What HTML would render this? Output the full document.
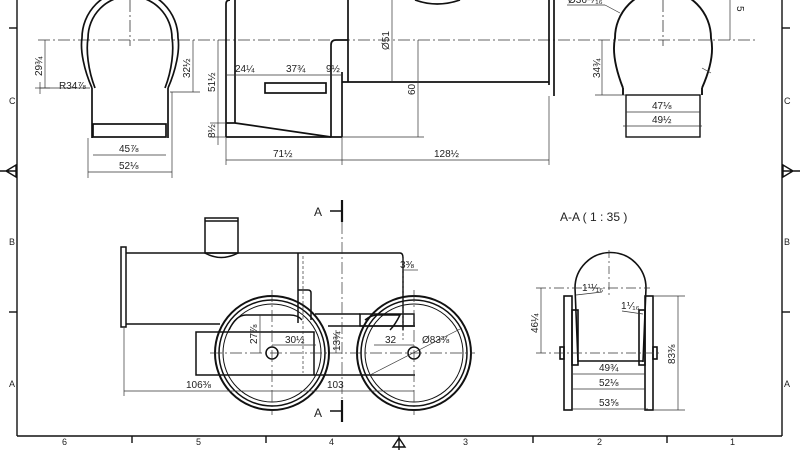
<!DOCTYPE html>
<html><head><style>
html,body{margin:0;padding:0;background:#fff;}
svg{display:block;font-family:"Liberation Sans","DejaVu Sans",sans-serif;}
</style></head><body>
<svg width="800" height="450" viewBox="0 0 800 450" xmlns="http://www.w3.org/2000/svg">
<rect width="800" height="450" fill="#fff"/>
<g stroke="#111" fill="none" stroke-width="1.4">
<line x1="17" y1="0" x2="17" y2="436"/>
<line x1="782" y1="0" x2="782" y2="436"/>
<line x1="17" y1="436" x2="782" y2="436"/>
<line x1="9" y1="28" x2="17" y2="28"/><line x1="9" y1="312" x2="17" y2="312"/>
<line x1="782" y1="28" x2="790" y2="28"/><line x1="782" y1="312" x2="790" y2="312"/>
<line x1="132" y1="436" x2="132" y2="443"/><line x1="266" y1="436" x2="266" y2="443"/>
<line x1="533" y1="436" x2="533" y2="443"/><line x1="667" y1="436" x2="667" y2="443"/>
<path d="M6 171 L16 165 L16 177 Z M0 171 H17"/>
<path d="M793 171 L783 165 L783 177 Z M783 171 H800"/>
<path d="M399 438 L393 447 L405 447 Z M399 436 V450"/>
</g>
<g font-size="9" fill="#222">
<text x="9" y="104">C</text><text x="9" y="245">B</text><text x="9" y="387">A</text>
<text x="784" y="104">C</text><text x="784" y="245">B</text><text x="784" y="387">A</text>
<text x="62" y="445">6</text><text x="196" y="445">5</text><text x="329" y="445">4</text>
<text x="463" y="445">3</text><text x="597" y="445">2</text><text x="730" y="445">1</text>
</g>

<g stroke="#333" stroke-width="0.8" fill="none" stroke-dasharray="12,3,2,3">
<line x1="38" y1="40" x2="755" y2="40"/>
<line x1="130" y1="0" x2="130" y2="46"/>
<line x1="663" y1="0" x2="663" y2="46"/>
</g>

<g stroke="#111" fill="none" stroke-width="1.7">
<path d="M92 88 C84 70 80 50 82 38 A48 48 0 0 1 178 38 C180 50 176 70 168 88"/>
<path d="M95 88 C88 70 86 50 88 38 A42 42 0 0 1 172 38 C174 50 172 70 165 88"/>
<line x1="92" y1="88" x2="92" y2="138"/><line x1="168" y1="88" x2="168" y2="138"/>
<rect x="93" y="124" width="73" height="13"/>
</g>
<g stroke="#333" stroke-width="0.7" fill="none">
<line x1="45" y1="40" x2="45" y2="88"/><line x1="40" y1="88" x2="90" y2="88"/>
<line x1="193" y1="40" x2="193" y2="92"/><line x1="170" y1="92" x2="200" y2="92"/>
<line x1="93" y1="155" x2="166" y2="155"/><line x1="88" y1="172" x2="172" y2="172"/>
<line x1="88" y1="138" x2="88" y2="178"/><line x1="172" y1="92" x2="172" y2="178"/>
<line x1="35" y1="88" x2="50" y2="88"/><line x1="40" y1="82" x2="40" y2="94"/>
</g>
<g font-size="10" fill="#222">
<text x="59" y="89">R34⅞</text>
<text x="119" y="152">45⅞</text><text x="119" y="169">52⅛</text>
<text transform="translate(42,76) rotate(-90)">29¾</text>
<text transform="translate(190,78) rotate(-90)">32½</text>
</g>

<g stroke="#111" fill="none" stroke-width="1.7">
<path d="M226 137 V4 Q226 0 230 0"/>
<line x1="235" y1="0" x2="235" y2="123"/>
<line x1="226" y1="123" x2="235" y2="123"/>
<line x1="235" y1="123" x2="331" y2="137"/>
<line x1="226" y1="137" x2="342" y2="137"/>
<path d="M331 137 V45 Q331 40 336 40 H348"/>
<line x1="348" y1="0" x2="348" y2="82"/>
<line x1="342" y1="72" x2="342" y2="137"/>
<line x1="342" y1="82" x2="549" y2="82"/>
<line x1="549" y1="0" x2="549" y2="85"/>
<line x1="554" y1="0" x2="554" y2="96"/>
<rect x="265" y="83" width="61" height="10"/>
<path d="M415 0 Q437 8 460 0"/>
</g>
<g stroke="#333" stroke-width="0.7" fill="none">
<line x1="218" y1="40" x2="218" y2="145"/><line x1="210" y1="123" x2="226" y2="123"/>
<line x1="210" y1="137" x2="226" y2="137"/>
<line x1="226" y1="75" x2="342" y2="75"/>
<line x1="418" y1="40" x2="418" y2="137"/><line x1="342" y1="137" x2="424" y2="137"/>
<line x1="392" y1="0" x2="392" y2="82"/>
<line x1="226" y1="160" x2="549" y2="160"/>
<line x1="226" y1="137" x2="226" y2="165"/><line x1="342" y1="137" x2="342" y2="165"/><line x1="549" y1="96" x2="549" y2="165"/>
</g>
<g font-size="10" fill="#222">
<text x="235" y="72">24¼</text><text x="286" y="72">37¾</text><text x="326" y="72">9½</text>
<text x="273" y="157">71½</text><text x="434" y="157">128½</text>
<text transform="translate(215,92) rotate(-90)">51½</text>
<text transform="translate(215,138) rotate(-90)">8½</text>
<text transform="translate(415,95) rotate(-90)">60</text>
<text transform="translate(389,50) rotate(-90)">Ø51</text>
</g>

<g stroke="#111" fill="none" stroke-width="1.9">
<path d="M623 88 C616 70 612 52 615 38 A48 48 0 0 1 711 38 C714 52 710 70 702 88"/>
<line x1="623" y1="88" x2="623" y2="95"/><line x1="702" y1="88" x2="702" y2="95"/>
</g>
<g stroke="#111" fill="none" stroke-width="1.4">
<rect x="626" y="95" width="74" height="42"/>
</g>
<g stroke="#333" stroke-width="0.7" fill="none">
<line x1="602" y1="40" x2="602" y2="95"/><line x1="595" y1="95" x2="626" y2="95"/>
<line x1="626" y1="112" x2="700" y2="112"/><line x1="623" y1="126" x2="702" y2="126"/>
<line x1="730" y1="0" x2="730" y2="40"/>
<line x1="567" y1="5" x2="605" y2="5"/><line x1="605" y1="5" x2="620" y2="13"/>
<line x1="702" y1="68" x2="711" y2="73"/>
</g>
<g font-size="10" fill="#222">
<text x="652" y="109">47⅛</text><text x="652" y="123">49½</text>
<text transform="translate(600,78) rotate(-90)">34¾</text>
<text x="568" y="3">Ø36¹¹⁄₁₆</text>
<text transform="translate(737,6) rotate(90)">5</text>
</g>

<g stroke="#111" fill="none" stroke-width="1.5">
<rect x="121" y="247" width="5" height="80"/>
<line x1="126" y1="253" x2="400" y2="253"/>
<line x1="126" y1="324" x2="220" y2="324"/>
<rect x="205" y="218" width="33" height="35"/>
<line x1="205" y1="221" x2="238" y2="221"/>
<path d="M205 253 Q221 262 238 253"/>
<path d="M298 253 V323"/><path d="M400 253 Q403 253 403 258 V330"/>
<path d="M298 290 H308 Q311 290 311 293 V320"/>
<rect x="196" y="332" width="118" height="43"/>
<line x1="314" y1="375" x2="415" y2="375"/>
<line x1="328" y1="326" x2="415" y2="326"/>
<line x1="315" y1="314" x2="360" y2="314"/>
<rect x="360" y="314" width="54" height="12"/>
<circle cx="272" cy="353" r="57" stroke-width="2"/>
<circle cx="272" cy="353" r="53"/>
<circle cx="272" cy="353" r="49" stroke-width="1"/>
<circle cx="272" cy="353" r="6"/>
<circle cx="414" cy="353" r="57" stroke-width="2"/>
<circle cx="414" cy="353" r="53"/>
<circle cx="414" cy="353" r="49" stroke-width="1"/>
<circle cx="414" cy="353" r="6"/>
<path d="M229 330 Q236 315 246 315 H290 Q298 315 302 320"/>
<path d="M365 320 Q371 315 378 315 H400 Q395 325 390 330"/>
<line x1="342" y1="200" x2="342" y2="222" stroke-width="2.2"/>
<line x1="342" y1="400" x2="342" y2="422" stroke-width="2.2"/>
<line x1="330" y1="211" x2="342" y2="211"/><line x1="330" y1="411" x2="342" y2="411"/>
</g>
<g stroke="#333" stroke-width="0.7" fill="none">
<line x1="342" y1="222" x2="342" y2="400" stroke-dasharray="12,3,2,3"/>
<line x1="210" y1="353" x2="475" y2="353" stroke-dasharray="12,3,2,3"/>
<line x1="272" y1="290" x2="272" y2="415" stroke-dasharray="12,3,2,3"/>
<line x1="414" y1="290" x2="414" y2="415" stroke-dasharray="12,3,2,3"/>
<line x1="124" y1="391" x2="414" y2="391"/>
<line x1="124" y1="328" x2="124" y2="396"/>
<line x1="260" y1="315" x2="260" y2="353"/>
<line x1="272" y1="345" x2="316" y2="345"/>
<line x1="336" y1="330" x2="336" y2="353"/>
<line x1="374" y1="345" x2="414" y2="345"/>
<line x1="370" y1="375" x2="462" y2="328"/>
<line x1="403" y1="270" x2="418" y2="270"/>
<line x1="303" y1="256" x2="303" y2="373" stroke-dasharray="3,2"/>
<line x1="403" y1="258" x2="403" y2="340" stroke-dasharray="3,2"/>
</g>
<g font-size="10" fill="#222">
<text x="186" y="388">106⅜</text><text x="327" y="388">103</text>
<text x="285" y="343">30½</text><text x="385" y="343">32</text>
<text x="422" y="343">Ø83⅜</text>
<text x="400" y="268">3⅜</text>
<text transform="translate(257,344) rotate(-90)">27⅞</text>
<text transform="translate(340,351) rotate(-90)">13¾</text>
</g>
<g font-size="12" fill="#222"><text x="314" y="216">A</text><text x="314" y="417">A</text></g>

<text x="560" y="221" font-size="12" fill="#222">A-A ( 1 : 35 )</text>
<g stroke="#111" fill="none" stroke-width="1.6">
<path d="M578 362 L575 288 A35 35 0 0 1 646 288 L643 362"/>
<rect x="564" y="296" width="8" height="114"/>
<rect x="645" y="296" width="8" height="114"/>
<rect x="572" y="310" width="6" height="55"/>
<rect x="639" y="310" width="6" height="55"/>
<rect x="560" y="347" width="4" height="12"/>
<rect x="653" y="347" width="4" height="12"/>
<line x1="578" y1="361" x2="643" y2="361"/>
</g>
<g stroke="#333" stroke-width="0.7" fill="none">
<line x1="536" y1="288" x2="650" y2="288" stroke-dasharray="10,3,2,3"/>
<line x1="536" y1="353" x2="660" y2="353" stroke-dasharray="10,3,2,3"/>
<line x1="609" y1="250" x2="609" y2="295" stroke-dasharray="8,3,2,3"/>
<line x1="541" y1="288" x2="541" y2="353"/>
<line x1="653" y1="296" x2="685" y2="296"/><line x1="653" y1="410" x2="685" y2="410"/>
<line x1="678" y1="296" x2="678" y2="410"/>
<line x1="573" y1="374" x2="645" y2="374"/>
<line x1="573" y1="389" x2="645" y2="389"/>
<line x1="571" y1="409" x2="648" y2="409"/>
<line x1="576" y1="295" x2="602" y2="292"/>
<line x1="622" y1="311" x2="643" y2="314"/>
</g>
<g font-size="10" fill="#222">
<text x="582" y="291">1¹¹⁄₁₆</text><text x="621" y="309">1⅟₁₆</text>
<text x="599" y="371">49¾</text><text x="599" y="386">52⅛</text><text x="599" y="406">53⅝</text>
<text transform="translate(538,333) rotate(-90)">46¼</text>
<text transform="translate(675,364) rotate(-90)">83⅜</text>
</g>
</svg>
</body></html>
